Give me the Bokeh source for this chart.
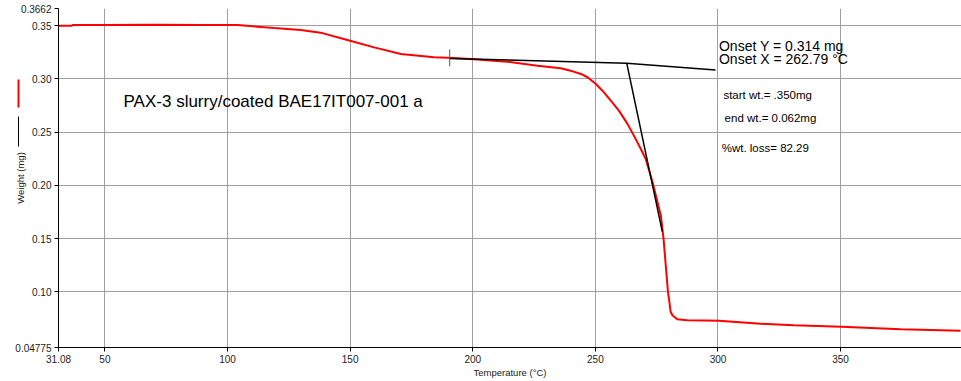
from bokeh.plotting import figure
from bokeh.models import FixedTicker, LinearAxis, Range1d
from bokeh.core.properties import value
from bokeh.embed import file_html
from bokeh.resources import INLINE

# ---- data ----
temperature = [31.08, 36.5, 37.0, 50, 70, 90, 104.1, 119.0, 129.9, 138.7, 148.9, 159.8,
               170.7, 184.2, 192.3, 200.4, 214.1, 226.4, 235.9, 239.9, 244.1, 246.8,
               250.2, 252.9, 256.3, 259.6, 263.1, 265.7, 268.5, 270.5, 273.3, 276.7,
               277.8, 278.7, 279.6, 280.0, 280.7, 281.4, 283.4, 287.5, 294.3, 300.4,
               317.4, 331.0, 350.4, 374.5, 398.9]
weight = [0.3500, 0.3500, 0.3508, 0.3508, 0.3510, 0.3508, 0.3506, 0.3478, 0.3459, 0.3431,
          0.3366, 0.3297, 0.3234, 0.3203, 0.3197, 0.3185, 0.3162, 0.3125, 0.3100, 0.3078,
          0.3047, 0.3016, 0.2953, 0.2890, 0.2797, 0.2703, 0.2578, 0.2468, 0.2344, 0.2250,
          0.2032, 0.1718, 0.1500, 0.1250, 0.1000, 0.0938, 0.0813, 0.0781, 0.0743, 0.0734,
          0.0731, 0.0728, 0.0700, 0.0687, 0.0672, 0.0650, 0.0635]

baseline_tangent_x = [190.6, 262.79, 299.0]
baseline_tangent_y = [0.3193, 0.3148, 0.3085]
step_tangent_x = [262.79, 277.3]
step_tangent_y = [0.3148, 0.1566]
cursor_x = [190.6, 190.6]
cursor_y = [0.3278, 0.3119]

x_ticks = [31.08, 50, 100, 150, 200, 250, 300, 350, 400]
x_tick_labels = ["31.08", "50", "100", "150", "200", "250", "300", "350", "400"]
y_ticks = [0.04775, 0.10, 0.15, 0.20, 0.25, 0.30, 0.35, 0.3662]
y_tick_labels = ["0.04775", "0.10", "0.15", "0.20", "0.25", "0.30", "0.35", "0.3662"]

sample_title = "PAX-3 slurry/coated BAE17IT007-001 a"
onset_texts = ["Onset Y = 0.314 mg", "Onset X = 262.79 °C"]
result_texts = ["start wt.= .350mg", "end wt.= 0.062mg", "%wt. loss= 82.29"]

# series key marks beside the y-axis title (red = weight, black = onset tangents)
red_key_span = (0.2728, 0.2991)
black_key_span = (0.2362, 0.2644)

FONT = "Liberation Sans"

p = figure(width=961, height=380, output_backend="svg", toolbar_location=None,
           x_range=Range1d(31.08, 399.3), y_range=Range1d(0.04775, 0.3662),
           min_border_left=58, min_border_right=0, min_border_top=8, min_border_bottom=33)
p.outline_line_color = None
p.background_fill_color = "white"
p.border_fill_color = "white"

for ax in (p.xaxis[0], p.yaxis[0]):
    ax.axis_line_color = "black"
    ax.axis_line_width = 1
    ax.major_tick_line_color = "black"
    ax.major_tick_out = 4
    ax.major_tick_in = 0
    ax.minor_tick_line_color = None
    ax.major_label_text_font = FONT
    ax.major_label_text_font_size = "10px"
    ax.major_label_text_color = "#222222"
    ax.major_label_standoff = 3
    ax.axis_label_text_font = FONT
    ax.axis_label_text_font_size = "9.5px"
    ax.axis_label_text_font_style = "normal"
    ax.axis_label_text_color = "#222222"

p.xaxis.ticker = FixedTicker(ticks=x_ticks)
p.xaxis.major_label_overrides = dict(zip(x_ticks, x_tick_labels))
p.yaxis.ticker = FixedTicker(ticks=y_ticks)
p.yaxis.major_label_overrides = dict(zip(y_ticks, y_tick_labels))

p.xaxis.axis_label = "Temperature (°C)"
p.xaxis.axis_label_standoff = 1
# tiny blank title with a negative standoff: pulls the key axes closer to the tick labels
p.yaxis.axis_label = " "
p.yaxis.axis_label_text_font_size = "1px"
p.yaxis.axis_label_standoff = -10

# key marks as bounded, tick-less axes stacked left of the value axis;
# the outer one carries the y-axis title
keys = ((red_key_span, "#ff0000", 2, None), (black_key_span, "black", 1, "Weight (mg)"))
for span, color, width, title in keys:
    key_axis = LinearAxis(bounds=span, ticker=FixedTicker(ticks=[]),
                          axis_line_color=color, axis_line_width=width,
                          major_tick_out=0, major_tick_in=0,
                          major_tick_line_color=None, minor_tick_line_color=None,
                          major_label_text_color=None, major_label_standoff=0,
                          axis_label=title, axis_label_standoff=-7,
                          axis_label_text_font=FONT, axis_label_text_font_size="9.5px",
                          axis_label_text_font_style="normal",
                          axis_label_text_color="#222222")
    p.add_layout(key_axis, "left")

p.xgrid.ticker = FixedTicker(ticks=x_ticks[1:])
p.ygrid.ticker = FixedTicker(ticks=y_ticks[1:-1])
for g in (p.xgrid[0], p.ygrid[0]):
    g.grid_line_color = "#a0a0a0"
    g.grid_line_width = 1

p.line(temperature, weight, line_color="#ff0000", line_width=2)
p.line(baseline_tangent_x, baseline_tangent_y, line_color="black", line_width=1.5)
p.line(step_tangent_x, step_tangent_y, line_color="black", line_width=1.5)
p.line(cursor_x, cursor_y, line_color="#555555", line_width=1)

p.text(x=[57.6], y=[0.2787], text=[sample_title], text_font=value(FONT),
       text_font_size="17px", text_baseline="alphabetic", text_align="left", text_color="black")
p.text(x=[300.4, 300.4], y=[0.3312, 0.3188], text=onset_texts, text_font=value(FONT),
       text_font_size="14px", text_baseline="alphabetic", text_align="left", text_color="black")
p.text(x=[302.2, 302.7, 301.5], y=[0.2850, 0.2632, 0.2350], text=result_texts,
       text_font=value(FONT), text_font_size="11.5px", text_baseline="alphabetic",
       text_align="left", text_color="black")

open("out.html", "w").write(file_html(p, INLINE))
